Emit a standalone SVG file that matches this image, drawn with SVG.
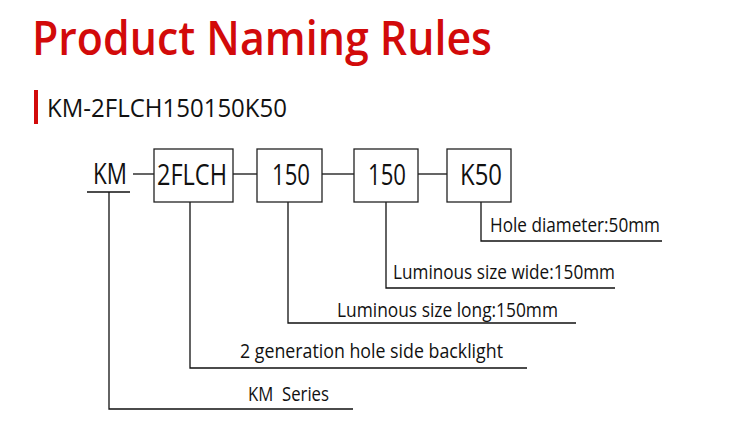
<svg xmlns="http://www.w3.org/2000/svg" width="743" height="436" viewBox="0 0 743 436">
<style>
.title{font-family:"Open Sans","Noto Sans",sans-serif;font-weight:600;fill:#d20a0a;font-size:47px}
.sub{font-family:"Open Sans","Noto Sans",sans-serif;font-weight:500;fill:#111;font-size:26px}
.code{font-family:"Open Sans","Noto Sans",sans-serif;fill:#111;font-size:29px}
.lab{font-family:"Open Sans","Noto Sans",sans-serif;fill:#111;font-size:20.5px;white-space:pre}
.box{fill:#fff;stroke:#222;stroke-width:1.3}
.ln{stroke:#111;stroke-width:1.3;fill:none}
</style>
<rect width="743" height="436" fill="#fff"/>
<text class="title" x="32" y="55" textLength="460" lengthAdjust="spacingAndGlyphs">Product Naming Rules</text>
<rect x="34" y="90" width="4" height="34" fill="#d20a0a"/>
<text class="sub" x="47" y="117" textLength="240" lengthAdjust="spacingAndGlyphs">KM-2FLCH150150K50</text>

<g id="connectors">
<line class="ln" x1="87" y1="192" x2="130" y2="192"/>
<line class="ln" x1="133" y1="174" x2="154" y2="174"/>
<line class="ln" x1="233" y1="174" x2="257" y2="174"/>
<line class="ln" x1="322" y1="174" x2="354" y2="174"/>
<line class="ln" x1="418" y1="174" x2="447" y2="174"/>
<polyline class="ln" points="109,192 109,409 353,409"/>
<polyline class="ln" points="190,202 190,368 527,368"/>
<polyline class="ln" points="288,202 288,323 576,323"/>
<polyline class="ln" points="386,202 386,288 615,288"/>
<polyline class="ln" points="481,202 481,241 662,241"/>
</g>

<g id="node-km">
<text class="code" x="93" y="184" textLength="34" lengthAdjust="spacingAndGlyphs">KM</text>
</g>
<g id="node-2flch">
<rect class="box" x="154" y="149" width="79" height="53"/>
<text class="code" x="157" y="185" textLength="70" lengthAdjust="spacingAndGlyphs">2FLCH</text>
</g>
<g id="node-150a">
<rect class="box" x="257" y="149" width="65" height="53"/>
<text class="code" x="272" y="185" textLength="38" lengthAdjust="spacingAndGlyphs">150</text>
</g>
<g id="node-150b">
<rect class="box" x="354" y="149" width="64" height="53"/>
<text class="code" x="368" y="185" textLength="38" lengthAdjust="spacingAndGlyphs">150</text>
</g>
<g id="node-k50">
<rect class="box" x="447" y="149" width="64" height="53"/>
<text class="code" x="460" y="185" textLength="42" lengthAdjust="spacingAndGlyphs">K50</text>
</g>

<g id="label-hole">
<text class="lab" x="490" y="232" textLength="170" lengthAdjust="spacingAndGlyphs">Hole diameter:50mm</text>
</g>
<g id="label-wide">
<text class="lab" x="393" y="279" textLength="222" lengthAdjust="spacingAndGlyphs">Luminous size wide:150mm</text>
</g>
<g id="label-long">
<text class="lab" x="337" y="317" textLength="221" lengthAdjust="spacingAndGlyphs">Luminous size long:150mm</text>
</g>
<g id="label-gen">
<text class="lab" x="240" y="358" textLength="263" lengthAdjust="spacingAndGlyphs">2 generation hole side backlight</text>
</g>
<g id="label-series">
<text class="lab" x="248" y="401" textLength="81" lengthAdjust="spacingAndGlyphs" xml:space="preserve">KM  Series</text>
</g>
</svg>
